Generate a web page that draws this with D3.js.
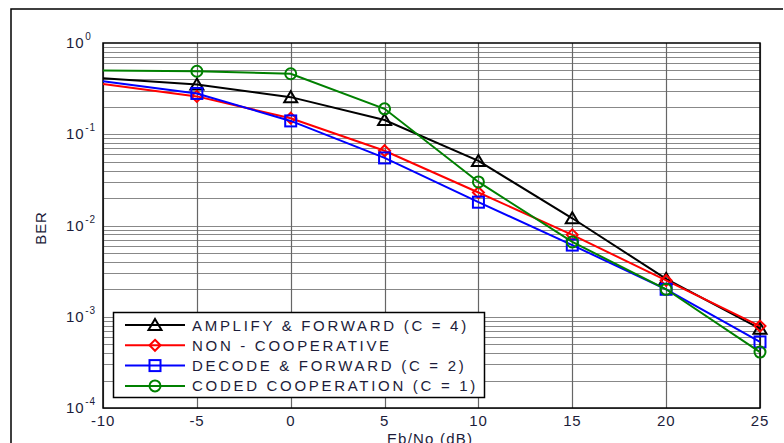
<!DOCTYPE html>
<html>
<head>
<meta charset="utf-8">
<script src="https://cdn.jsdelivr.net/npm/d3@7/dist/d3.min.js"></script>
<style>
  body { margin: 0; background: #fff; }
  svg { display: block; font-family: "Liberation Sans", Arial, sans-serif; }
  .lbl { fill: #1c1c3a; }
</style>
</head>
<body>
<svg id="chart" width="784" height="443"></svg>
<script>
// Eb/No values (dB)
var snr = [-10, -5, 0, 5, 10, 15, 20, 25];

// BER for each scheme
var amplifyForward = [0.41, 0.35, 0.255, 0.143, 0.051, 0.012, 0.0026, 0.00074];
var nonCooperative = [0.355, 0.26, 0.15, 0.066, 0.023, 0.0079, 0.0025, 0.00079];
var decodeForward  = [0.38, 0.28, 0.14, 0.055, 0.018, 0.0061, 0.0020, 0.00053];
var codedCoop      = [0.50, 0.49, 0.46, 0.19, 0.030, 0.0066, 0.0020, 0.00041];

var xTicks = [-10, -5, 0, 5, 10, 15, 20, 25];
var yExponents = [0, -1, -2, -3, -4];

var series = [
    { name: "AMPLIFY & FORWARD (C = 4)", values: amplifyForward, color: "#000000", marker: "triangle" },
    { name: "NON - COOPERATIVE", values: nonCooperative, color: "#ff0000", marker: "diamond" },
    { name: "DECODE & FORWARD (C = 2)", values: decodeForward, color: "#0000ff", marker: "square" },
    { name: "CODED COOPERATION (C = 1)", values: codedCoop, color: "#008000", marker: "circle" }
];

var svg = d3.select("#chart");

// outer frame (left + top only visible)
svg.append("path")
    .attr("d", "M11,443V9H783")
    .attr("fill", "none")
    .attr("stroke", "#000")
    .attr("stroke-width", 1.5);

var pLeft = 103, pRight = 760, pTop = 43, pBottom = 408;

var x = d3.scaleLinear().domain([-10, 25]).range([pLeft, pRight]);
var y = d3.scaleLog().domain([1e-4, 1]).range([pBottom, pTop]);

// horizontal grid: every 1..9 x 10^k
var minor = [];
for (var e = -4; e < 0; e++) {
    for (var m = 1; m < 10; m++) minor.push(m * Math.pow(10, e));
}
svg.append("g")
    .selectAll("line")
    .data(minor)
    .join("line")
    .attr("x1", pLeft).attr("x2", pRight)
    .attr("y1", d => Math.round(y(d)) + 0.5)
    .attr("y2", d => Math.round(y(d)) + 0.5)
    .attr("stroke", "#888")
    .attr("stroke-width", 1.2);

// vertical grid
svg.append("g")
    .selectAll("line")
    .data(xTicks)
    .join("line")
    .attr("x1", d => Math.round(x(d)) + 0.5)
    .attr("x2", d => Math.round(x(d)) + 0.5)
    .attr("y1", pTop).attr("y2", pBottom)
    .attr("stroke", "#666")
    .attr("stroke-width", 1.2);

// plot box
svg.append("rect")
    .attr("x", pLeft).attr("y", pTop)
    .attr("width", pRight - pLeft).attr("height", pBottom - pTop)
    .attr("fill", "none")
    .attr("stroke", "#000")
    .attr("stroke-width", 1.5);

// x tick labels
svg.append("g")
    .selectAll("text")
    .data(xTicks)
    .join("text")
    .attr("class", "lbl")
    .attr("x", d => x(d))
    .attr("y", 426)
    .attr("text-anchor", "middle")
    .attr("font-size", 15)
    .attr("letter-spacing", 0.8)
    .text(d => d);

// y tick labels 10^k
var yl = svg.append("g")
    .selectAll("text")
    .data(yExponents)
    .join("text")
    .attr("class", "lbl")
    .attr("x", 66)
    .attr("y", d => y(Math.pow(10, d)) + 5)
    .attr("font-size", 15)
    .attr("letter-spacing", 0.8);
yl.append("tspan").text("10");
yl.append("tspan")
    .attr("dx", 1)
    .attr("dy", -8)
    .attr("font-size", 10)
    .text(d => d === 0 ? "0" : "-" + Math.abs(d));

// axis titles
svg.append("text")
    .attr("class", "lbl")
    .attr("transform", "translate(46,228) rotate(-90)")
    .attr("text-anchor", "middle")
    .attr("font-size", 15)
    .attr("letter-spacing", 0.8)
    .text("BER");

svg.append("text")
    .attr("class", "lbl")
    .attr("x", 430)
    .attr("y", 444)
    .attr("text-anchor", "middle")
    .attr("font-size", 15)
    .attr("letter-spacing", 1.2)
    .text("Eb/No (dB)");

function drawMarker(g, type, color) {
    if (type === "triangle") {
        g.append("path").attr("d", "M0,-6L6.5,5L-6.5,5Z");
    } else if (type === "diamond") {
        g.append("path").attr("d", "M0,-5.5L5.5,0L0,5.5L-5.5,0Z");
    } else if (type === "square") {
        g.append("rect").attr("x", -5.5).attr("y", -5.5).attr("width", 11).attr("height", 11);
    } else {
        g.append("circle").attr("r", 5.5);
    }
    g.selectAll("*")
        .attr("fill", "none")
        .attr("stroke", color)
        .attr("stroke-width", 2);
}

var line = d3.line()
    .x(d => x(d[0]))
    .y(d => y(d[1]));

series.forEach(function (s) {
    var pts = snr.map((v, i) => [v, s.values[i]]);
    var g = svg.append("g");
    g.append("path")
        .datum(pts)
        .attr("d", line)
        .attr("fill", "none")
        .attr("stroke", s.color)
        .attr("stroke-width", 2);
    pts.slice(1).forEach(function (p) {
        var mg = g.append("g").attr("transform", "translate(" + x(p[0]) + "," + y(p[1]) + ")");
        drawMarker(mg, s.marker, s.color);
    });
});

// legend
var lg = svg.append("g");
lg.append("rect")
    .attr("x", 113.5).attr("y", 312.5)
    .attr("width", 371).attr("height", 85)
    .attr("fill", "#fff")
    .attr("stroke", "#000")
    .attr("stroke-width", 1.5);

series.forEach(function (s, i) {
    var yy = 325 + i * 20.3;
    lg.append("line")
        .attr("x1", 125).attr("x2", 185)
        .attr("y1", yy).attr("y2", yy)
        .attr("stroke", s.color)
        .attr("stroke-width", 2);
    var mg = lg.append("g").attr("transform", "translate(155," + yy + ")");
    drawMarker(mg, s.marker, s.color);
    lg.append("text")
        .attr("class", "lbl")
        .attr("x", 192)
        .attr("y", yy + 5.5)
        .attr("font-size", 15)
        .attr("letter-spacing", 2.7)
        .style("white-space", "pre")
        .text(s.name);
});
</script>
</body>
</html>
